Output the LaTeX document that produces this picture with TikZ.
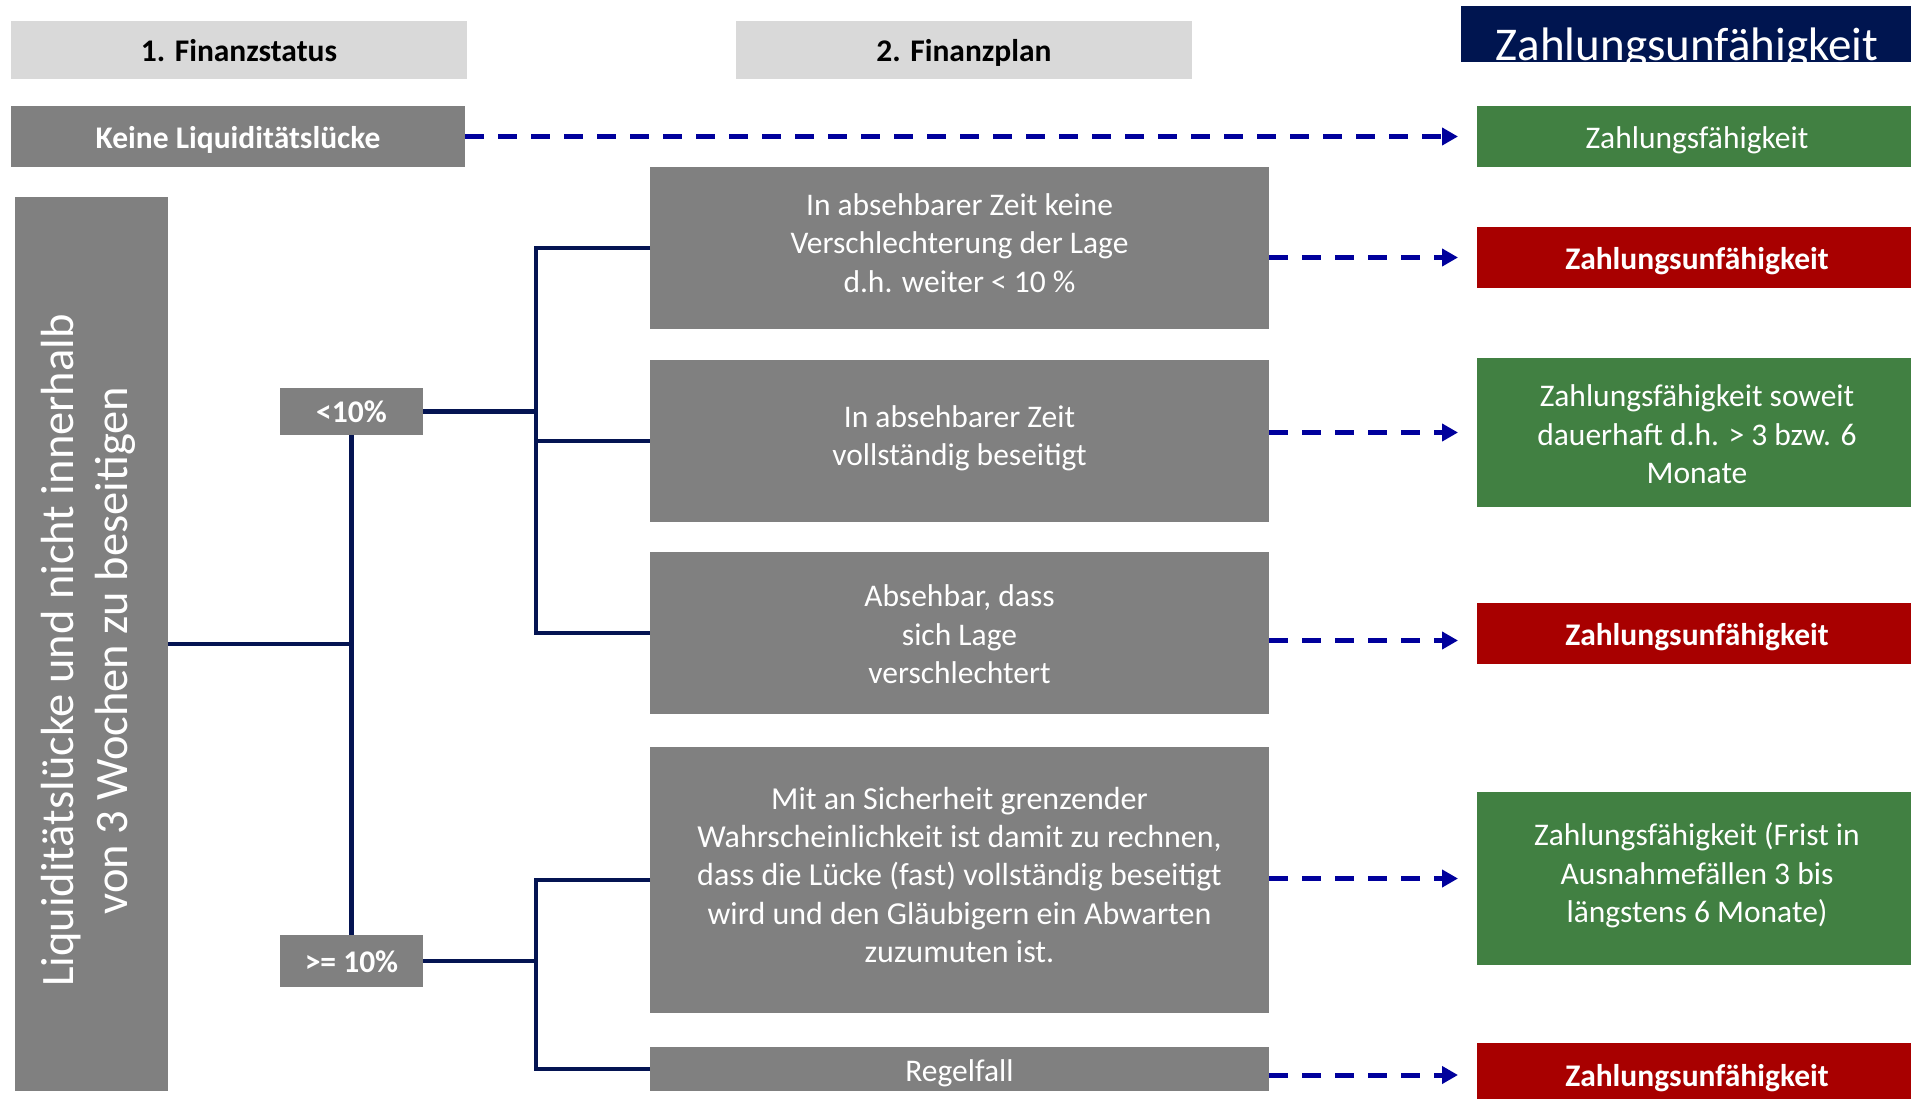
\documentclass[tikz,border=0pt]{standalone}
\usepackage{fontspec}
\setmainfont{Carlito}
\usetikzlibrary{arrows.meta}
\definecolor{boxgray}{RGB}{128,128,128}
\definecolor{hdrgray}{RGB}{217,217,217}
\definecolor{okgreen}{RGB}{65,128,66}
\definecolor{badred}{RGB}{168,0,0}
\definecolor{navyhdr}{RGB}{0,21,80}
\definecolor{connnavy}{RGB}{4,20,82}
\definecolor{arrblue}{RGB}{0,0,156}
\begin{document}
\begin{tikzpicture}[x=1pt,y=-1pt,
  basebox/.style={inner sep=0pt, outer sep=0pt, anchor=north west, align=center,
    font=\fontsize{31.5}{38.4}\selectfont},
  oneline/.style={text height=#1, text depth=2pt},
  oneline/.default=26pt,
  hdrbox/.style={basebox, fill=hdrgray, text=black, font=\fontsize{31.5}{38.4}\selectfont\bfseries},
  graybox/.style={basebox, fill=boxgray, text=white},
  pctbox/.style={basebox, fill=boxgray, text=white, font=\fontsize{31.5}{38.4}\selectfont\bfseries},
  greenbox/.style={basebox, fill=okgreen, text=white},
  redbox/.style={basebox, fill=badred, text=white, font=\fontsize{31.5}{38.4}\selectfont\bfseries},
  conn/.style={draw=connnavy, line width=4.5pt},
  darr/.style={draw=arrblue, line width=5pt, dash pattern=on 19pt off 14pt,
    -{Triangle[length=16pt,width=17pt]}, shorten >=19pt}
]
\useasboundingbox (0,0) rectangle (1911,1098);
\clip (0,0) rectangle (1911,1098);

% headers
\node[hdrbox, oneline=24pt, minimum width=456, minimum height=58] (h1) at (11,21) {1. Finanzstatus};
\node[hdrbox, oneline=24pt, minimum width=456, minimum height=58] (h2) at (736,21) {2. Finanzplan};
\begin{scope}
  \clip (1461,6) rectangle (1911,62);
  \node[basebox, fill=navyhdr, text=white, minimum width=452, text height=54pt, text depth=2pt,
    font=\fontsize{47}{56}\selectfont] (h3) at (1461,6) {Zahlungsunfähigkeit};
\end{scope}

% first row
\node[graybox, oneline, minimum width=454, minimum height=61, font=\fontsize{31.5}{38.4}\selectfont\bfseries] (k1) at (11,106) {Keine Liquiditätslücke};
\node[greenbox, oneline, minimum width=440, minimum height=61] (g1) at (1477,106) {Zahlungsfähigkeit};

% vertical box
\node[graybox, anchor=center, rotate=90, minimum width=894, minimum height=153,
  text height=74pt, text depth=2pt,
  font=\fontsize{46.5}{54}\selectfont] (v) at (91.5,644)
  {Liquiditätslücke und nicht innerhalb\hspace*{13pt}\\von 3 Wochen zu beseitigen\hspace*{13pt}};

% percentage boxes
\node[pctbox, oneline=23pt, minimum width=143, minimum height=47] (p1) at (280,388) {<10\%};
\node[pctbox, oneline=24pt, minimum width=143, minimum height=52] (p2) at (280,935) {>= 10\%};

% middle boxes
\node[graybox, text height=90.6pt, text depth=2pt, minimum width=619, minimum height=162] (b1) at (650,167)
  {In absehbarer Zeit keine\\Verschlechterung der Lage\\d.h. weiter < 10 \%};
\node[graybox, text height=50.8pt, text depth=2pt, minimum width=619, minimum height=162] (b2) at (650,360)
  {In absehbarer Zeit\\vollständig beseitigt};
\node[graybox, text height=103.2pt, text depth=2pt, minimum width=619, minimum height=162] (b3) at (650,552)
  {Absehbar, dass\\sich Lage\\verschlechtert};
\node[graybox, text height=167.4pt, text depth=2pt, minimum width=619, minimum height=266,
  font=\fontsize{32}{38.4}\selectfont] (b4) at (650,747)
  {Mit an Sicherheit grenzender\\Wahrscheinlichkeit ist damit zu rechnen,\\dass die Lücke (fast) vollständig beseitigt\\wird und den Gläubigern ein Abwarten\\zuzumuten ist.};
\node[graybox, oneline, minimum width=619, minimum height=44] (b5) at (650,1047) {Regelfall};

% result boxes
\node[redbox, oneline, minimum width=440, minimum height=61] (r1) at (1477,227) {Zahlungsunfähigkeit};
\node[greenbox, text height=104.4pt, text depth=2pt, minimum width=440, minimum height=149] (g2) at (1477,358)
  {Zahlungsfähigkeit soweit\\dauerhaft d.h. > 3 bzw. 6\\Monate};
\node[redbox, oneline, minimum width=440, minimum height=61] (r2) at (1477,603) {Zahlungsunfähigkeit};
\node[greenbox, text height=90pt, text depth=2pt, minimum width=440, minimum height=173] (g3) at (1477,792)
  {Zahlungsfähigkeit (Frist in\\Ausnahmefällen 3 bis\\längstens 6 Monate)};
\node[redbox, oneline=24pt, minimum width=440, minimum height=64] (r3) at (1477,1043) {Zahlungsunfähigkeit};

% tree connectors
\coordinate (t1) at (536,0);
\draw[conn] (v.south) -- (v.south -| p1.south);
\draw[conn] (p1.south) -- (p2.north);
\draw[conn] (p1.east) -- (p1.east -| t1);
\draw[conn] (b1.west) -- (b1.west -| t1) -- (b3.west -| t1) -- (b3.west);
\draw[conn] (b2.west -| t1) -- (b2.west);
\draw[conn] (p2.east) -- (p2.east -| t1);
\draw[conn] (b4.west) -- (b4.west -| t1) -- (b5.west -| t1) -- (b5.west);

% dashed arrows
\draw[darr] (k1.east) -- (g1.west);
\draw[darr] (b1.east |- r1.west) -- (r1.west);
\draw[darr] (b2.east |- g2.west) -- (g2.west);
\draw[darr] ([yshift=-7pt]b3.east |- r2.west) -- ([yshift=-7pt]r2.west);
\draw[darr] (b4.east |- g3.west) -- (g3.west);
\draw[darr] (b5.east |- r3.west) -- (r3.west);
\end{tikzpicture}
\end{document}
